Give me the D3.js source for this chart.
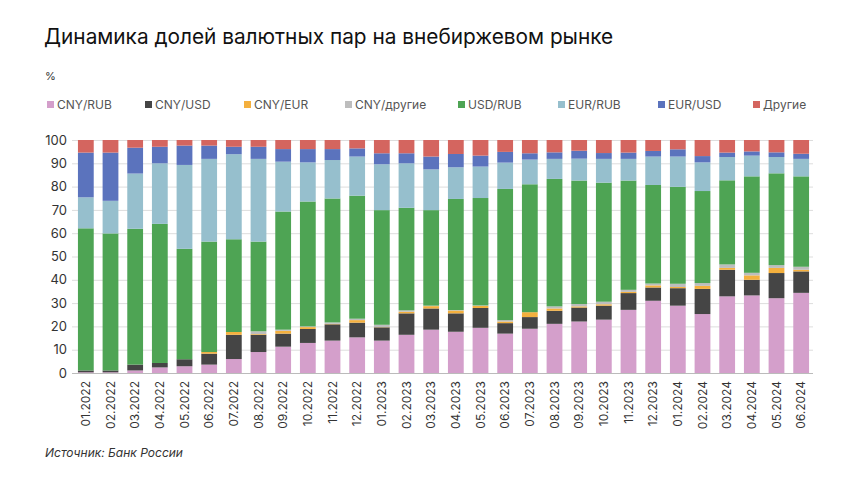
<!DOCTYPE html>
<html><head><meta charset="utf-8">
<script src="https://cdn.jsdelivr.net/npm/d3@7"></script>
<style>body{margin:0;background:#fff}svg{display:block}</style>
</head><body><svg id="c" width="860" height="484"></svg>
<script>
const months = ["01.2022","02.2022","03.2022","04.2022","05.2022","06.2022","07.2022","08.2022","09.2022","10.2022","11.2022","12.2022",
"01.2023","02.2023","03.2023","04.2023","05.2023","06.2023","07.2023","08.2023","09.2023","10.2023","11.2023","12.2023",
"01.2024","02.2024","03.2024","04.2024","05.2024","06.2024"];
const seriesNames = ["CNY/RUB","CNY/USD","CNY/EUR","CNY/другие","USD/RUB","EUR/RUB","EUR/USD","Другие"];
const seriesColors = ["#d49fcb","#454545","#f4b03e","#bdbdbd","#4ea454","#96bfcd","#5b73bd","#d4655f"];
const cnyRub = [0.3,0.3,1.1,2.4,2.9,3.6,6.0,9.0,11.3,12.9,13.9,15.3,13.9,16.4,18.6,17.7,19.4,16.9,19.0,21.1,22.1,22.9,27.1,31.0,28.9,25.3,32.9,33.3,32.1,34.4];
const cnyUsd = [0.8,0.8,2.5,1.9,3.0,4.7,10.4,7.4,5.6,6.0,7.0,6.3,5.7,9.2,9.1,7.9,8.5,4.5,5.0,5.6,6.0,6.0,7.2,5.7,7.5,10.8,11.4,6.7,10.8,9.2];
const cnyEur = [0,0,0,0,0,0.7,1.2,0.3,1.2,0.8,0.2,1.1,0.1,0.7,1.0,1.2,0.9,0.7,2.1,1.0,0.5,0.6,0.5,0.9,0.5,1.3,0.8,1.9,2.2,0.7];
const cnyOther = [0,0,0,0,0,0,0,1.2,0.5,0.3,0.6,0.6,1.0,0.6,0.2,0.2,0.2,0.6,0,0.9,1.0,1.1,0.9,0.8,1.4,1.2,1.5,1.1,1.2,1.3];
const usdRub = [61.0,58.8,58.3,59.7,47.4,47.4,39.8,38.5,50.7,53.6,53.2,52.8,49.2,44.0,41.0,47.7,46.1,56.3,54.9,54.7,53.0,51.1,46.9,42.3,41.6,39.5,36.1,41.4,39.4,38.8];
const eurRub = [13.3,14.0,23.7,26.0,36.0,35.5,36.5,35.5,21.4,16.8,16.5,16.8,19.7,19.1,17.5,13.6,13.5,11.3,10.6,8.6,9.4,10.2,9.3,12.2,13.0,12.3,10.0,8.9,7.0,7.5];
const eurUsd = [19.2,20.7,11.1,7.1,8.3,5.7,3.2,5.2,5.4,5.7,4.7,3.5,4.7,4.3,5.5,5.7,4.7,4.6,2.7,2.8,3.4,2.5,2.7,2.4,3.1,2.7,1.9,1.8,2.0,2.2];
const others = [5.4,5.4,3.3,2.9,2.4,2.4,2.9,2.9,3.9,3.9,3.9,3.6,5.7,5.7,7.1,6.0,6.7,5.1,5.7,5.3,4.6,5.6,5.4,4.7,4.0,6.9,5.4,4.9,5.3,5.9];
const yTicks = [0,10,20,30,40,50,60,70,80,90,100];
const seriesValues = [cnyRub,cnyUsd,cnyEur,cnyOther,usdRub,eurRub,eurUsd,others];

// layout constants (not data)
const legendX = [47,145,244,345,458,558,658,753];

const rows = months.map((m,i)=>{const r={month:m}; seriesNames.forEach((s,k)=>r[s]=seriesValues[k][i]); return r;});
const stack = d3.stack().keys(seriesNames)(rows);

const svg = d3.select("#c");
const font = "Inter, 'Noto Sans', sans-serif";
const x = d3.scaleBand().domain(months).range([73.5,813.5]).paddingInner(0.36).paddingOuter(0.18);
const y = d3.scaleLinear().domain([0,100]).range([373,140]);

svg.append("text").attr("x",44).attr("y",44).attr("font-family",font).attr("font-size",20.8).attr("fill","#111")
  .text("Динамика долей валютных пар на внебиржевом рынке");
svg.append("text").attr("x",45).attr("y",80).attr("font-family",font).attr("font-size",11).attr("fill","#333").text("%");

// legend
seriesNames.forEach((s,k)=>{
  const g = svg.append("g").attr("transform",`translate(${legendX[k]},105)`);
  g.append("rect").attr("x",0).attr("y",-4).attr("width",7).attr("height",7).attr("fill",seriesColors[k]);
  g.append("text").attr("x",10).attr("y",4).attr("font-family",font).attr("font-size",12).attr("fill","#555").text(s);
});

// grid
const yAxis = d3.axisLeft(y).tickValues(yTicks).tickSize(-(813-72)).tickPadding(6);
const ga = svg.append("g").attr("transform","translate(72,0)").call(yAxis);
ga.select(".domain").remove();
ga.selectAll(".tick line").attr("stroke","#dddddd").attr("stroke-width",1);
ga.selectAll(".tick text").attr("font-family",font).attr("font-size",13).attr("fill","#333").attr("x",-5);

// bars
svg.append("g").selectAll("g").data(stack).join("g").attr("fill",(d,i)=>seriesColors[i])
  .selectAll("rect").data(d=>d).join("rect")
  .attr("x",d=>x(d.data.month)).attr("width",x.bandwidth())
  .attr("y",d=>y(d[1])).attr("height",d=>Math.max(0,y(d[0])-y(d[1])));

// x axis
const xAxis = d3.axisBottom(x).tickSize(0).tickPadding(0);
const gx = svg.append("g").attr("transform","translate(0,373)").call(xAxis);
gx.select(".domain").attr("stroke","#bbbbbb").attr("d","M72,0.5H813");
gx.selectAll(".tick text").attr("font-family",font).attr("font-size",12).attr("fill","#333")
  .attr("transform","rotate(-90)").attr("text-anchor","end").attr("x",-8).attr("y",0).attr("dy","0.35em");

svg.append("text").attr("x",45).attr("y",457).attr("font-family",font).attr("font-size",12).attr("font-style","italic").attr("fill","#333")
  .text("Источник: Банк России");
</script></body></html>
